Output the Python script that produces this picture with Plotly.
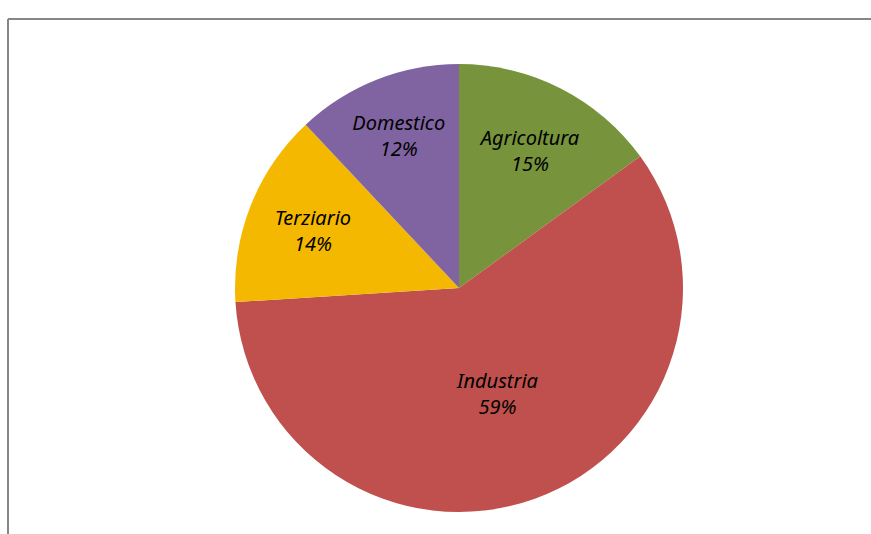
import plotly.graph_objects as go

categories = ["Agricoltura", "Industria", "Terziario", "Domestico"]
values = [15, 59, 14, 12]
colors = ["#77933C", "#C0504D", "#F5B800", "#8064A2"]

W, H = 871, 534
cx, cy, r = 459, 288, 224

fig = go.Figure(go.Pie(
    labels=categories,
    values=values,
    sort=False,
    direction="clockwise",
    rotation=0,
    marker=dict(colors=colors, line=dict(width=0)),
    texttemplate="<i>%{label}<br>%{percent:.0%}</i>",
    textposition="inside",
    insidetextorientation="horizontal",
    textfont=dict(family="Noto Sans", size=20, color="#000000"),
    domain=dict(x=[(cx - r) / W, (cx + r) / W], y=[1 - (cy + r) / H, 1 - (cy - r) / H]),
    showlegend=False,
    hoverinfo="label+percent",
))

fig.update_layout(
    width=W, height=H,
    margin=dict(l=0, r=0, t=0, b=0),
    paper_bgcolor="white",
    plot_bgcolor="white",
    shapes=[
        dict(type="line", xref="paper", yref="paper", x0=8 / W, x1=8 / W, y0=0, y1=1 - 19 / H,
             line=dict(color="#868686", width=2)),
        dict(type="line", xref="paper", yref="paper", x0=8 / W, x1=1, y0=1 - 19 / H, y1=1 - 19 / H,
             line=dict(color="#868686", width=2)),
    ],
)

fig.write_html("out.html", config={"displayModeBar": False},
               post_script="document.body.style.margin='0';")
